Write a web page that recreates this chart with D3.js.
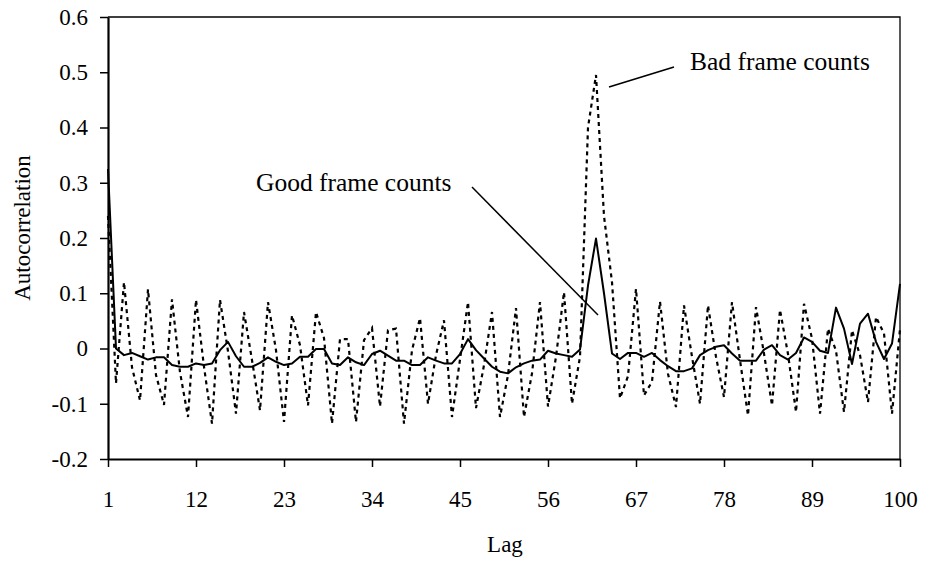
<!DOCTYPE html>
<html>
<head>
<meta charset="utf-8">
<script src="https://cdn.jsdelivr.net/npm/d3@7"></script>
<style>
  body { margin: 0; background: #fff; }
  svg { display: block; }
  text { font-family: "Liberation Serif", "Times New Roman", serif; fill: #000; }
</style>
</head>
<body>
<svg id="chart" width="925" height="563"></svg>
<script>
// Autocorrelation of frame counts by lag
const lags = d3.range(1, 101);
const xTickValues = [1, 12, 23, 34, 45, 56, 67, 78, 89, 100];
const yTickValues = [-0.2, -0.1, 0, 0.1, 0.2, 0.3, 0.4, 0.5, 0.6];

const goodFrameCounts = [
  0.325, 0.0, -0.012, -0.008, -0.014, -0.02, -0.016, -0.016, -0.03, -0.033,
  -0.033, -0.027, -0.03, -0.027, -0.003, 0.012, -0.014, -0.033, -0.033, -0.026,
  -0.016, -0.024, -0.03, -0.027, -0.015, -0.015, -0.001, -0.001, -0.027, -0.03,
  -0.016, -0.025, -0.03, -0.01, -0.004, -0.013, -0.022, -0.022, -0.03, -0.03,
  -0.016, -0.022, -0.027, -0.027, -0.01, 0.017, -0.003, -0.018, -0.033, -0.042,
  -0.045, -0.034, -0.027, -0.022, -0.02, -0.004, -0.009, -0.012, -0.015, -0.002,
  0.114, 0.199, 0.1, -0.009, -0.019, -0.008, -0.008, -0.015, -0.008, -0.021,
  -0.032, -0.041, -0.041, -0.036, -0.012, -0.003, 0.003, 0.006, -0.009, -0.022,
  -0.022, -0.022, -0.002, 0.006, -0.012, -0.02, -0.008, 0.02, 0.012, -0.004,
  -0.008, 0.074, 0.036, -0.028, 0.045, 0.063, 0.012, -0.019, 0.009, 0.117
];

const badFrameCounts = [
  0.24, -0.063, 0.12, -0.034, -0.094, 0.107, -0.048, -0.102, 0.089, -0.043,
  -0.124, 0.088, -0.033, -0.136, 0.088, -0.005, -0.118, 0.066, -0.021, -0.112,
  0.084, -0.003, -0.133, 0.06, 0.006, -0.103, 0.066, 0.019, -0.136, 0.017,
  0.017, -0.133, 0.015, 0.037, -0.105, 0.033, 0.036, -0.136, -0.003, 0.055,
  -0.1, -0.012, 0.051, -0.124, -0.02, 0.084, -0.108, -0.03, 0.066, -0.124,
  -0.048, 0.073, -0.124, -0.045, 0.084, -0.105, -0.015, 0.102, -0.1, -0.015,
  0.40, 0.495, 0.24, 0.12, -0.09, -0.05, 0.108, -0.085, -0.06, 0.085,
  -0.046, -0.106, 0.078, -0.015, -0.1, 0.078, -0.015, -0.088, 0.084, -0.021,
  -0.121, 0.075, -0.009, -0.103, 0.07, -0.01, -0.115, 0.081, 0.018, -0.118,
  0.036, -0.004, -0.115, 0.033, -0.012, -0.097, 0.057, 0.027, -0.118, 0.035
];

const svg = d3.select("#chart");
const plot = { left: 108, right: 900, top: 17, bottom: 459 };

const x = d3.scaleLinear().domain([1, 100]).range([plot.left, plot.right]);
const y = d3.scaleLinear().domain([-0.2, 0.6]).range([plot.bottom, plot.top]);

// plot frame (top and right edges)
svg.append("path")
  .attr("d", `M${plot.left},${plot.top}H${plot.right}V${plot.bottom}`)
  .attr("fill", "none")
  .attr("stroke", "#000")
  .attr("stroke-width", 1.3);

// y axis
const yAxis = svg.append("g")
  .attr("transform", `translate(${plot.left},0)`)
  .call(d3.axisLeft(y)
    .tickValues(yTickValues)
    .tickSize(8)
    .tickSizeOuter(0)
    .tickPadding(12)
    .tickFormat(d => d === 0 ? "0" : d.toFixed(1)));

// x axis
const xAxis = svg.append("g")
  .attr("transform", `translate(0,${plot.bottom})`)
  .call(d3.axisBottom(x)
    .tickValues(xTickValues)
    .tickSize(8)
    .tickSizeOuter(0)
    .tickFormat(d3.format("d")));

[yAxis, xAxis].forEach(g => {
  g.select(".domain").attr("stroke", "#000").attr("stroke-width", 2.2);
  g.selectAll(".tick line").attr("stroke", "#000").attr("stroke-width", 1.5);
  g.selectAll(".tick text")
    .attr("font-family", '"Liberation Serif", "Times New Roman", serif')
    .attr("font-size", 23)
    .attr("fill", "#000");
});
xAxis.selectAll(".tick text").attr("y", 48).attr("dy", null);

// axis titles
svg.append("text")
  .attr("x", 505).attr("y", 552)
  .attr("text-anchor", "middle")
  .attr("font-size", 23)
  .text("Lag");

svg.append("text")
  .attr("transform", "translate(30,228) rotate(-90)")
  .attr("text-anchor", "middle")
  .attr("font-size", 23)
  .text("Autocorrelation");

// series lines
const line = d3.line()
  .x((d, i) => x(lags[i]))
  .y(d => y(d));

svg.append("path")
  .datum(badFrameCounts)
  .attr("d", line)
  .attr("fill", "none")
  .attr("stroke", "#000")
  .attr("stroke-width", 2.2)
  .attr("stroke-dasharray", "4,4");

svg.append("path")
  .datum(goodFrameCounts)
  .attr("d", line)
  .attr("fill", "none")
  .attr("stroke", "#000")
  .attr("stroke-width", 2)
  .attr("stroke-linejoin", "round");

// callouts
svg.append("text")
  .attr("x", 256).attr("y", 191)
  .attr("font-size", 25.5)
  .text("Good frame counts");
svg.append("line")
  .attr("x1", 472).attr("y1", 187)
  .attr("x2", 598).attr("y2", 315)
  .attr("stroke", "#000").attr("stroke-width", 1.5);

svg.append("text")
  .attr("x", 690).attr("y", 70)
  .attr("font-size", 25.5)
  .text("Bad frame counts");
svg.append("line")
  .attr("x1", 609).attr("y1", 87)
  .attr("x2", 674).attr("y2", 67)
  .attr("stroke", "#000").attr("stroke-width", 1.5);
</script>
</body>
</html>
